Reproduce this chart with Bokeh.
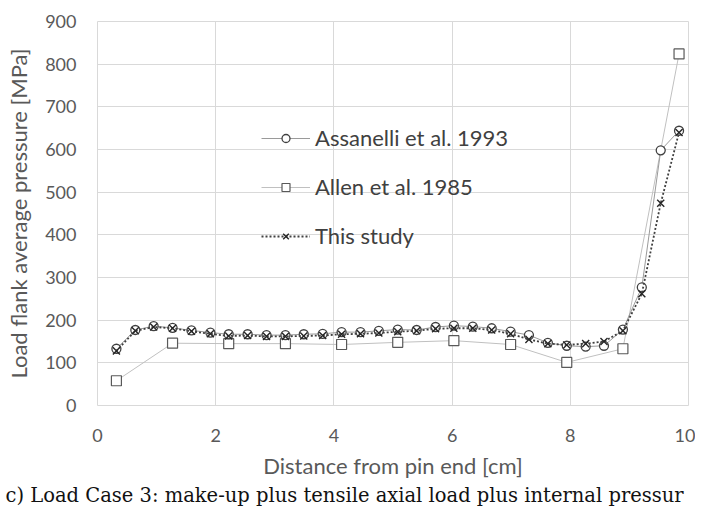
from bokeh.plotting import figure
from bokeh.models import Range1d, SingleIntervalTicker, Legend, LegendItem, Title
from bokeh.embed import file_html
from bokeh.resources import INLINE

# Data
x_all = [0.32, 0.64, 0.95, 1.27, 1.59, 1.91, 2.22, 2.54, 2.86, 3.18, 3.49, 3.81,
         4.13, 4.45, 4.76, 5.08, 5.40, 5.72, 6.03, 6.35, 6.67, 6.99, 7.30, 7.62,
         7.94, 8.26, 8.57, 8.89, 9.21, 9.53, 9.84]
assanelli = [133, 177, 186, 182, 176, 171, 167, 167, 165, 165, 167, 168,
             172, 172, 175, 178, 177, 184, 187, 185, 181, 173, 165, 147,
             140, 138, 140, 178, 277, 598, 644]
this_study = [128, 175, 184, 181, 174, 168, 163, 164, 162, 162, 163, 164,
              167, 168, 170, 173, 175, 180, 181, 181, 177, 168, 155, 145,
              142, 145, 150, 175, 262, 474, 640]
x_allen = [0.32, 1.27, 2.22, 3.18, 4.13, 5.08, 6.03, 6.99, 7.94, 8.89, 9.84]
allen = [58, 146, 145, 145, 143, 148, 152, 143, 101, 133, 824]

series_names = ["Assanelli et al. 1993", "Allen et al. 1985", "This study"]
x_title = "Distance from pin end [cm]"
y_title = "Load flank average pressure [MPa]"
caption = "c) Load Case 3: make-up plus tensile axial load plus internal pressur"

FONT = "Lato"
TICK_COLOR = "#595959"
GRID = "#d9d9d9"

p = figure(width=695, height=507, output_backend="svg", toolbar_location=None,
           x_range=Range1d(0, 10), y_range=Range1d(0, 900),
           min_border_left=97, min_border_right=7, min_border_top=21,
           min_border_bottom=102)
p.outline_line_color = GRID
p.background_fill_color = "white"
p.border_fill_color = "white"

p.xaxis.ticker = SingleIntervalTicker(interval=2)
p.yaxis.ticker = SingleIntervalTicker(interval=100)
p.xgrid.ticker = SingleIntervalTicker(interval=2)
p.ygrid.ticker = SingleIntervalTicker(interval=100)
p.grid.grid_line_color = GRID
p.grid.grid_line_width = 1

for ax in (p.xaxis, p.yaxis):
    ax.axis_line_color = None
    ax.major_tick_line_color = None
    ax.minor_tick_line_color = None
    ax.major_label_text_font = FONT
    ax.major_label_text_font_size = "18px"
    ax.major_label_text_color = TICK_COLOR
    ax.axis_label_text_font = FONT
    ax.axis_label_text_font_size = "22px"
    ax.axis_label_text_font_style = "normal"
    ax.axis_label_text_color = TICK_COLOR
p.yaxis.major_label_standoff = 15
p.xaxis.major_label_standoff = 17
p.yaxis.axis_label = y_title
p.xaxis.axis_label = x_title
p.yaxis.axis_label_standoff = 10
p.xaxis.axis_label_standoff = 7

# Allen et al. 1985
l_allen = p.line(x_allen, allen, line_color="#c0c0c0", line_width=1)
m_allen = p.scatter(x_allen, allen, marker="square", size=10,
                    line_color="#595959", fill_color="white", line_width=1.2)
# Assanelli et al. 1993
l_ass = p.line(x_all, assanelli, line_color="#9a9a9a", line_width=1)
m_ass = p.scatter(x_all, assanelli, marker="circle", size=9,
                  line_color="#404040", fill_color="white", line_width=1.3)
# This study
l_this = p.line(x_all, this_study, line_color="#404040", line_width=1.8,
                line_dash="2 2")
m_this = p.scatter(x_all, this_study, marker="x", size=10,
                   line_color="#262626", line_width=1.4)

legend = Legend(items=[
    LegendItem(label=series_names[0], renderers=[l_ass, m_ass]),
    LegendItem(label=series_names[1], renderers=[l_allen, m_allen]),
    LegendItem(label=series_names[2], renderers=[l_this, m_this]),
], location=(164, 156))
legend.border_line_color = None
legend.background_fill_alpha = 0
legend.padding = 0
legend.margin = 0
legend.glyph_width = 49
legend.glyph_height = 20
legend.label_height = 20
legend.spacing = 22
legend.label_standoff = 5
legend.label_text_font = FONT
legend.label_text_font_size = "22px"
legend.label_text_color = "#404040"
p.add_layout(legend)

cap = Title(text=caption, align="left", offset=-92, standoff=0,
            text_font="DejaVu Serif", text_font_size="19.5px",
            text_font_style="normal", text_color="#111111")
p.add_layout(cap, "below")

open("out.html", "w").write(file_html(p, INLINE))
